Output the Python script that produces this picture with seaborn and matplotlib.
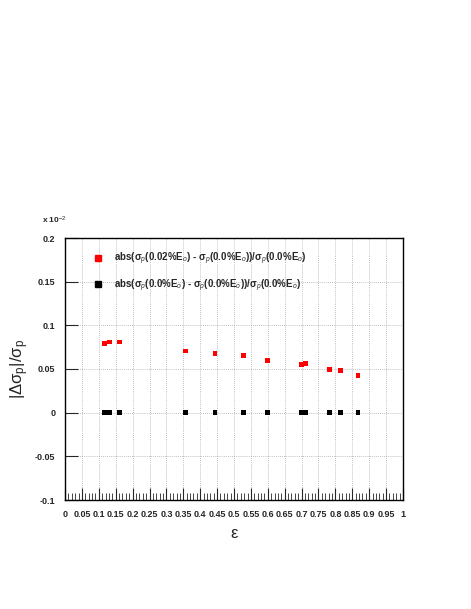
import matplotlib
matplotlib.use("Agg")
import matplotlib.pyplot as plt
import seaborn as sns
import pandas as pd
from matplotlib.ticker import MultipleLocator, FuncFormatter
from matplotlib.lines import Line2D

eps = [0.118, 0.131, 0.161, 0.357, 0.444, 0.529, 0.598, 0.699, 0.711, 0.783, 0.816, 0.867]
red_vals = [0.0795, 0.081, 0.081, 0.0707, 0.0676, 0.0653, 0.060, 0.0554, 0.0561, 0.049, 0.048, 0.043]
black_vals = [0.0] * len(eps)
label_red = "abs(σ$_p$(0.02%E$_o$) - σ$_p$(0.0%E$_o$))/σ$_p$(0.0%E$_o$)"
label_black = "abs(σ$_p$(0.0%E$_o$) - σ$_p$(0.0%E$_o$))/σ$_p$(0.0%E$_o$)"

df = pd.DataFrame({
    "eps": eps + eps,
    "val": red_vals + black_vals,
    "series": ["red"] * len(eps) + ["black"] * len(eps),
})

sns.set_style("white")
plt.rcParams['font.family'] = ['Liberation Sans', 'DejaVu Sans']
plt.rcParams['mathtext.fontset'] = 'custom'
plt.rcParams['mathtext.rm'] = 'Liberation Sans'
plt.rcParams['mathtext.it'] = 'Liberation Sans:italic'
plt.rcParams['mathtext.bf'] = 'Liberation Sans:bold'

fig = plt.figure(figsize=(4.71, 6.09), dpi=100)
ax = fig.add_axes([65/471, 1 - 500/609, 338/471, 262/609])

sns.scatterplot(data=df, x="eps", y="val", hue="series",
                palette={"red": "#ff0000", "black": "#000000"},
                marker="s", s=12, edgecolor="none", linewidth=0, ax=ax, legend=False, zorder=3)

ax.set_xlim(0, 1)
ax.set_ylim(-0.1, 0.2)
ax.xaxis.set_major_locator(MultipleLocator(0.05))
ax.xaxis.set_minor_locator(MultipleLocator(0.01))
ax.yaxis.set_major_locator(MultipleLocator(0.05))
ax.xaxis.set_major_formatter(FuncFormatter(lambda v, p: "%g" % round(v, 2)))
ax.yaxis.set_major_formatter(FuncFormatter(lambda v, p: "%g" % round(v, 2)))
ax.grid(True, which="major", linestyle=(0, (1, 1.5)), color="#aaaaaa", linewidth=0.6)
ax.tick_params(axis="both", which="major", direction="in", length=9, width=0.8,
               labelsize=6.5, pad=7, top=False, right=False, bottom=True, left=True)
ax.tick_params(axis="x", which="minor", direction="in", length=5, width=0.6, bottom=True, top=False)
for lbl in ax.get_xticklabels() + ax.get_yticklabels():
    lbl.set_fontweight("bold")
for sp in ax.spines.values():
    sp.set_linewidth(1.0)
    sp.set_color("black")

ax.set_xlabel("ε", fontsize=12)
ax.set_ylabel(r"$\mathregular{|\Delta\sigma_p|/\sigma_p}$", fontsize=12, labelpad=4)
ax.xaxis.set_label_coords(0.5, -0.1)
ax.yaxis.set_label_coords(-0.1, 0.5)

fig.text(42/471, 1 - 220/609, r"x 10$^{-2}$", fontsize=6, fontweight="bold", ha="left", va="center")

handles = [Line2D([], [], marker="s", linestyle="none", color="#ff0000", markersize=4.5),
           Line2D([], [], marker="s", linestyle="none", color="#000000", markersize=4.5)]
leg = ax.legend(handles, [label_red, label_black], loc="upper left",
                bbox_to_anchor=(0.075, 0.965), frameon=False, fontsize=7,
                handlelength=0.8, handletextpad=1.2, labelspacing=1.0, borderaxespad=0)
for t in leg.get_texts():
    t.set_fontweight("bold")

fig.savefig("out.png", dpi=100, facecolor="white")
